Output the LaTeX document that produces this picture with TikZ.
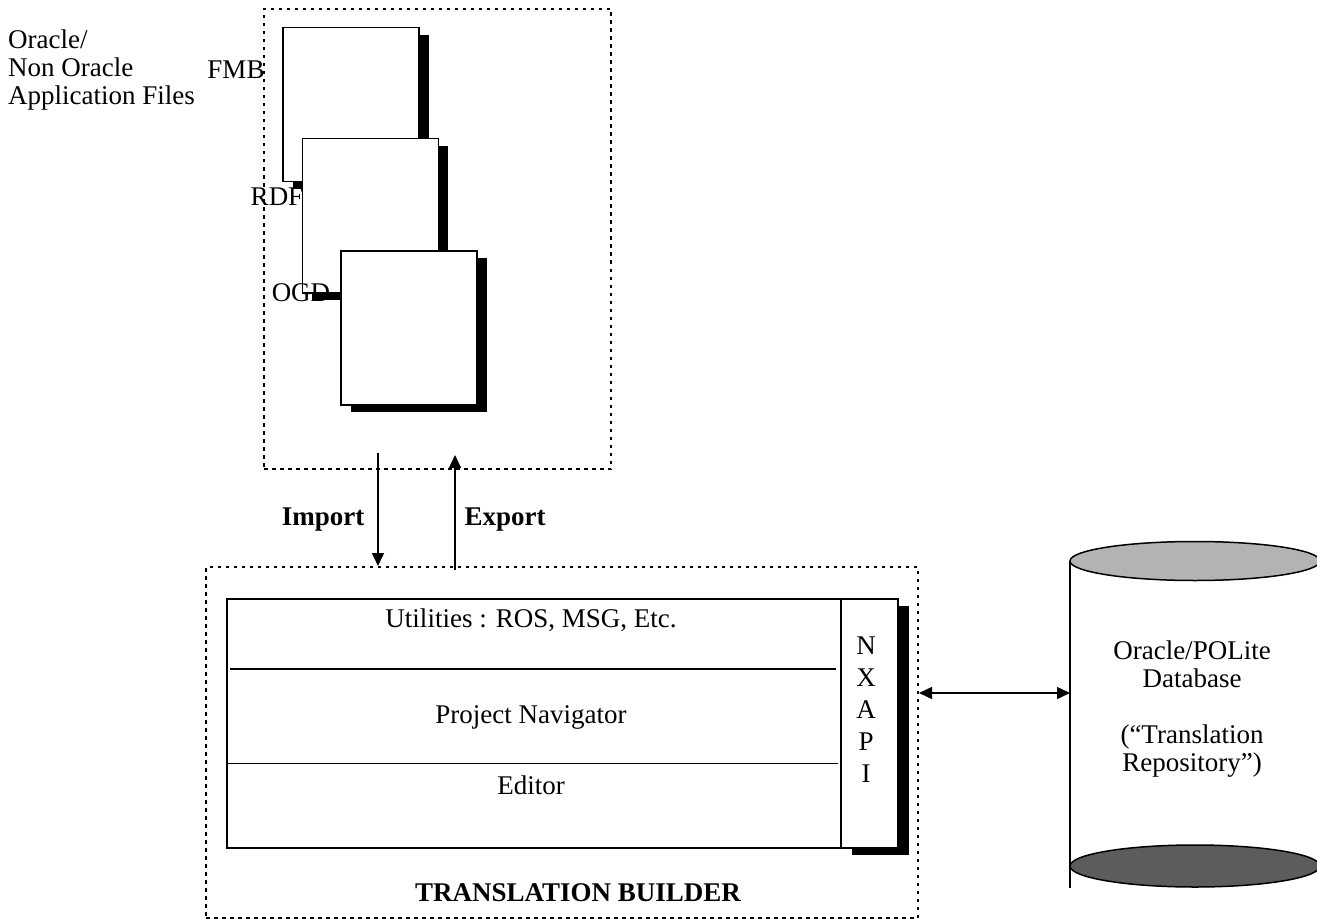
\documentclass[tikz,border=0pt]{standalone}
\usepackage{fontspec}
\setmainfont{Liberation Serif}
\usetikzlibrary{arrows.meta,shadows}
\definecolor{cyltop}{RGB}{179,179,179}
\definecolor{cylbot}{RGB}{92,92,92}
\begin{document}
\begin{tikzpicture}[x=1pt,y=-1pt,
  every node/.style={font=\fontsize{27}{28}\selectfont},
  dotbox/.style={draw, line width=2pt, dash pattern=on 3.5pt off 4.5pt, inner sep=0pt, anchor=north west},
  filebox/.style={draw, line width=1.5pt, fill=white, inner sep=0pt, anchor=north west,
    minimum width=136pt, minimum height=154pt,
    drop shadow={shadow xshift=10pt, shadow yshift=-7pt, fill=black, opacity=1}},
  lbl/.style={inner sep=0pt},
  boldlbl/.style={inner sep=0pt, font=\fontsize{27}{28}\selectfont\bfseries},
  arr/.style={line width=1.4pt, -{Triangle[length=13pt,width=12pt]}},
  darr/.style={line width=1.4pt, {Triangle[length=13pt,width=12pt]}-{Triangle[length=13pt,width=12pt]}},
  box/.style={draw, line width=1.5pt, fill=white, inner sep=0pt, anchor=north west}
]
\useasboundingbox (0,0) rectangle (1317,920);

% top dotted box with application files
\node[dotbox, minimum width=347pt, minimum height=460pt] (files) at (263,8) {};
\node[filebox] (fmb) at (282,27) {};
\node[filebox] (rdf) at (301.5,138) {};
\node[filebox] (ogd) at (340,250) {};
\node[lbl] (fmbl) at (236,70) {FMB};
\node[lbl] (rdfl) at (277,197) {RDF};
\node[lbl] (ogdl) at (301,293) {OGD};
\node[lbl, anchor=west, align=left] (apps) at (8,70) {Oracle/\\Non Oracle\\Application Files};

% translation builder
\node[dotbox, minimum width=712pt, minimum height=351pt] (tbo) at (205,566) {};
\node[box, minimum width=614pt, minimum height=249pt] (tb) at (226,598) {};
\node[box, minimum width=57pt, minimum height=249pt,
  drop shadow={shadow xshift=11pt, shadow yshift=-7pt, fill=black, opacity=1}] (nx) at (840,598) {};
\node[lbl, align=center, font=\fontsize{27}{32}\selectfont] (nxt) at (866,710) {N\\X\\A\\P\\I};
\draw[line width=2pt] (230,669) -- (836,669);
\draw[line width=1pt] (228,763) -- (838,763);
\node[lbl] (util) at (531,620) {Utilities : ROS, MSG, Etc.};
\node[lbl] (pn) at (531,717) {Project Navigator};
\node[lbl] (ed) at (531,785) {Editor};
\node[boldlbl] (tbl) at (578,893) {TRANSLATION BUILDER};

% import / export
\node[boldlbl] (imp) at (323,520) {Import};
\node[boldlbl] (exp) at (505,520) {Export};
\coordinate (impS) at (378,453);
\draw[arr] (impS) -- (impS |- tbo.north);
\coordinate (expS) at (455,570);
\coordinate (expE) at (455,455);
\draw[arr] (expS) -- (expE);

% database cylinder
\draw[line width=1.6pt] (1070,561) -- (1070,888);
\draw[line width=1.5pt, fill=cyltop] (1195,561) ellipse [x radius=125, y radius=19.5];
\draw[line width=1.5pt, fill=cylbot] (1195,866) ellipse [x radius=125, y radius=21];
\node[lbl, align=center] (db) at (1192,709) {Oracle/POLite\\Database\\[28pt](“Translation\\Repository”)};
\coordinate (dbl) at (1070,693);
\draw[darr] (tbo.east |- dbl) -- (dbl);
\end{tikzpicture}
\end{document}
